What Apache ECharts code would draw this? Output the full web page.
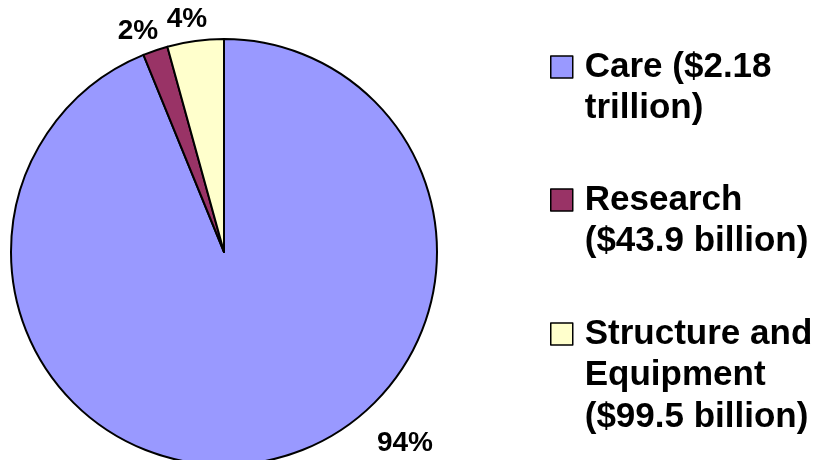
<!DOCTYPE html>
<html>
<head>
<meta charset="utf-8">
<title>Spending pie</title>
<script src="https://cdn.jsdelivr.net/npm/echarts@6/dist/echarts.min.js"></script>
<style>
  html, body { margin: 0; padding: 0; background: #fff; }
  #main { width: 825px; height: 460px; }
</style>
</head>
<body>
<div id="main"></div>
<script>
// data
const categories = ['Care ($2.18\ntrillion)', 'Research\n($43.9 billion)', 'Structure and\nEquipment\n($99.5 billion)'];
const values = [2180, 43.9, 99.5];
const colors = ['#9999FF', '#993366', '#FFFFCC'];

// layout
const font = "'Liberation Sans', Arial, sans-serif";
const lineH = 41.5;
const iconMid = [67, 200, 334];       // legend square centres (y)
const labelPos = [[405, 443], [138, 31], [187, 19]];

let chart = echarts.init(document.getElementById('main'));

// one legend per item; blank lines on top so the square sits on the first text line
let legends = categories.map((name, i) => {
  let n = name.split('\n').length;
  return {
    data: [name],
    left: 550,
    top: iconMid[i] - (2 * n - 1) * lineH / 2,
    padding: 0,
    icon: 'rect',
    itemWidth: 22,
    itemHeight: 22,
    selectedMode: false,
    formatter: s => ' \n'.repeat(n - 1) + s,
    itemStyle: { borderColor: '#000', borderWidth: 1.5 },
    textStyle: {
      fontFamily: font,
      fontWeight: 'bold',
      fontSize: 35,
      color: '#000',
      lineHeight: lineH,
      padding: [0, 0, 0, 7]
    }
  };
});

let option = {
  backgroundColor: '#fff',
  animation: false,
  legend: legends,
  series: [
    {
      type: 'pie',
      center: [224, 252],
      radius: 213,
      startAngle: 90,
      clockwise: true,
      data: categories.map((name, i) => ({
        name: name,
        value: values[i],
        itemStyle: { color: colors[i] }
      })),
      itemStyle: { borderColor: '#000', borderWidth: 2 },
      label: {
        show: true,
        position: 'outside',
        fontFamily: font,
        fontWeight: 'bold',
        fontSize: 28,
        color: '#000',
        formatter: p => Math.round(p.percent) + '%'
      },
      labelLine: { show: false },
      labelLayout: p => ({
        x: labelPos[p.dataIndex][0],
        y: labelPos[p.dataIndex][1],
        align: 'center',
        verticalAlign: 'middle'
      }),
      emphasis: { disabled: true }
    }
  ]
};

chart.setOption(option);
</script>
</body>
</html>
